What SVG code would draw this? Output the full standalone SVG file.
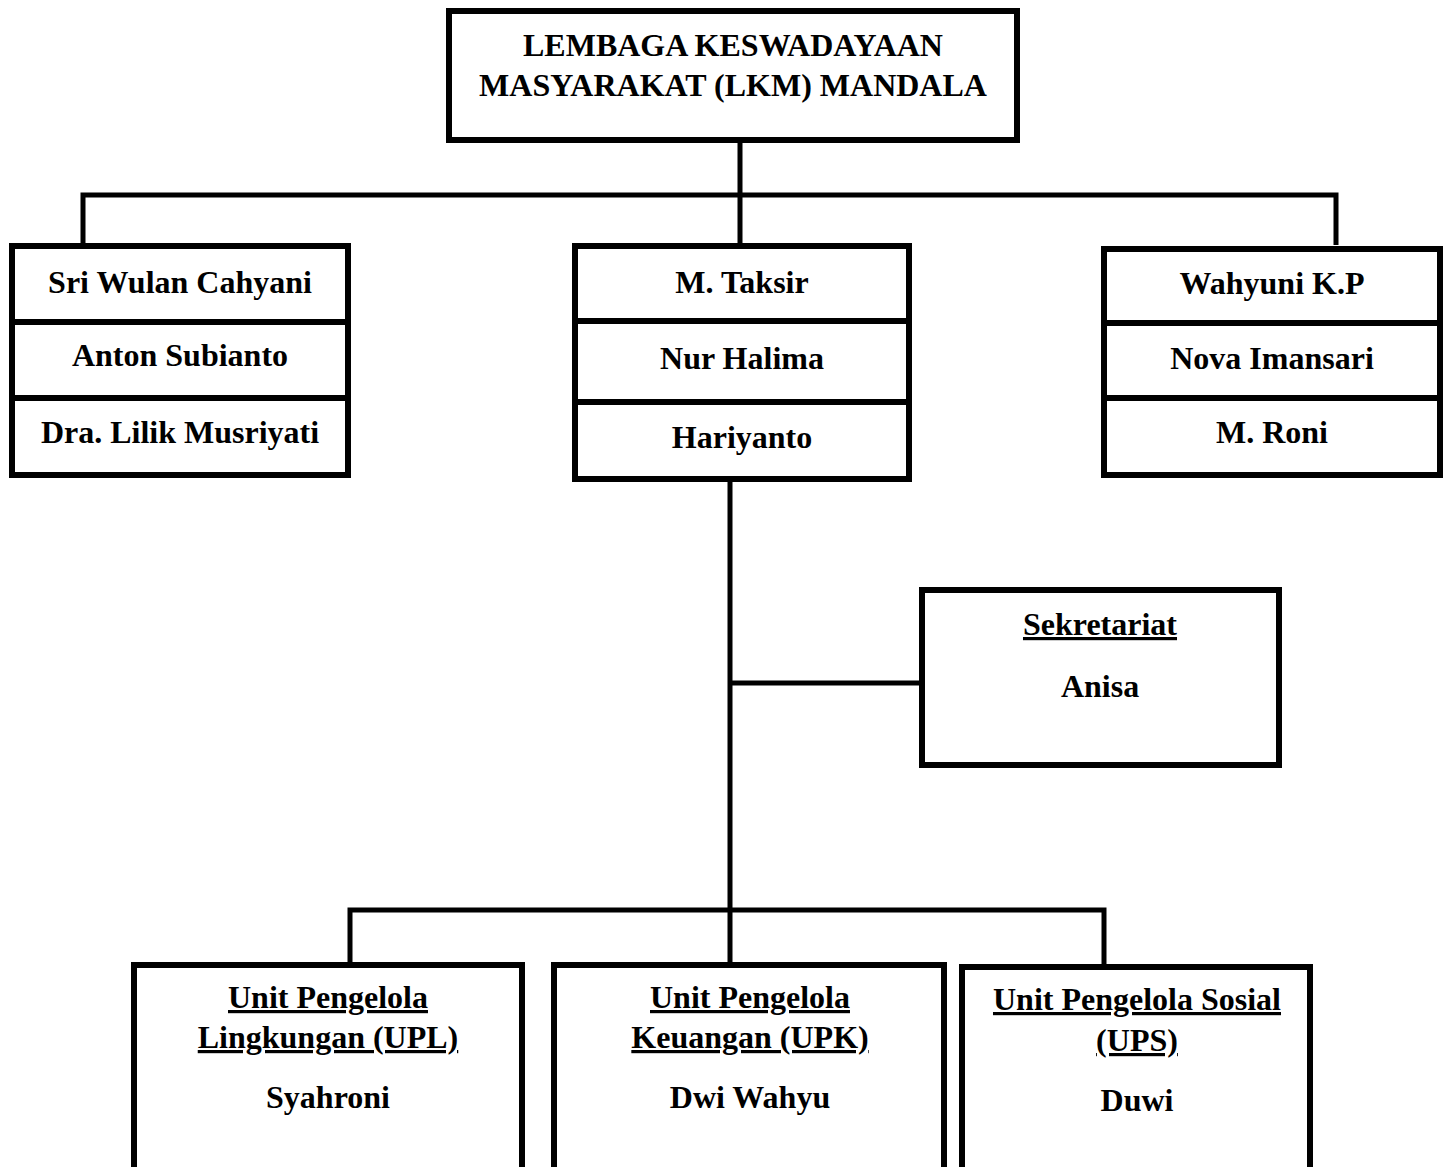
<svg xmlns="http://www.w3.org/2000/svg" width="1448" height="1167" viewBox="0 0 1448 1167">
<style>
.box{fill:#fff;stroke:#000;stroke-width:6}
.div{stroke:#000;stroke-width:6}
.con{fill:none;stroke:#000;stroke-width:5}
text{font-family:"Liberation Serif","Times New Roman",serif;font-weight:bold;font-size:32px;fill:#000;text-anchor:middle}
.u{text-decoration:underline}
</style>
<rect width="1448" height="1167" fill="#fff"/>
<g id="connectors">
<path class="con" d="M740 140V195M83 245V195H1336V245M740 195V245"/>
<path class="con" d="M730 479V965M730 683H922M350 965V910H1104V965"/>
</g>
<g id="top">
<rect class="box" x="449" y="11" width="568" height="129"/>
<text x="733" y="56">LEMBAGA KESWADAYAAN</text>
<text x="733" y="96">MASYARAKAT (LKM) MANDALA</text>
</g>
<g id="left-stack">
<rect class="box" x="12" y="246" width="336" height="229"/>
<line class="div" x1="12" y1="322" x2="348" y2="322"/>
<line class="div" x1="12" y1="398" x2="348" y2="398"/>
<text x="180" y="293">Sri Wulan Cahyani</text>
<text x="180" y="366">Anton Subianto</text>
<text x="180" y="443">Dra. Lilik Musriyati</text>
</g>
<g id="middle-stack">
<rect class="box" x="575" y="246" width="334" height="233"/>
<line class="div" x1="575" y1="321" x2="909" y2="321"/>
<line class="div" x1="575" y1="402" x2="909" y2="402"/>
<text x="742" y="293">M. Taksir</text>
<text x="742" y="369">Nur Halima</text>
<text x="742" y="448">Hariyanto</text>
</g>
<g id="right-stack">
<rect class="box" x="1104" y="249" width="336" height="226"/>
<line class="div" x1="1104" y1="323" x2="1440" y2="323"/>
<line class="div" x1="1104" y1="398" x2="1440" y2="398"/>
<text x="1272" y="294">Wahyuni K.P</text>
<text x="1272" y="369">Nova Imansari</text>
<text x="1272" y="443">M. Roni</text>
</g>
<g id="sekretariat">
<rect class="box" x="922" y="590" width="357" height="175"/>
<text class="u" x="1100" y="635">Sekretariat</text>
<text x="1100" y="697">Anisa</text>
</g>
<g id="upl">
<rect class="box" x="134" y="965" width="388" height="220"/>
<text class="u" x="328" y="1008">Unit Pengelola</text>
<text class="u" x="328" y="1048">Lingkungan (UPL)</text>
<text x="328" y="1108">Syahroni</text>
</g>
<g id="upk">
<rect class="box" x="554" y="965" width="390" height="220"/>
<text class="u" x="750" y="1008">Unit Pengelola</text>
<text class="u" x="750" y="1048">Keuangan (UPK)</text>
<text x="750" y="1108">Dwi Wahyu</text>
</g>
<g id="ups">
<rect class="box" x="962" y="967" width="348" height="220"/>
<text class="u" x="1137" y="1010">Unit Pengelola Sosial</text>
<text class="u" x="1137" y="1051">(UPS)</text>
<text x="1137" y="1111">Duwi</text>
</g>
</svg>
